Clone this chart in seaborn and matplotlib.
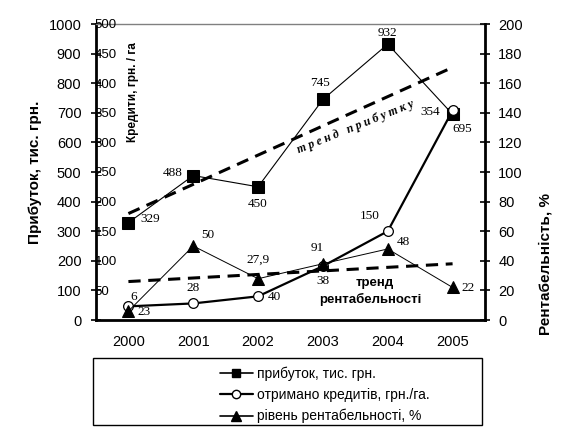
import numpy as np
import matplotlib
matplotlib.use('Agg')
import matplotlib.pyplot as plt
from matplotlib.lines import Line2D
from matplotlib.patches import Rectangle
import seaborn as sns

sns.set_style("white")
plt.rcParams['font.family'] = ['Liberation Sans', 'DejaVu Sans']
plt.rcParams['text.color'] = 'black'
plt.rcParams['xtick.color'] = 'black'
plt.rcParams['ytick.color'] = 'black'
plt.rcParams['xtick.labelcolor'] = 'black'
plt.rcParams['ytick.labelcolor'] = 'black'

years = ['2000', '2001', '2002', '2003', '2004', '2005']
profit = [329, 488, 450, 745, 932, 695]        # тис. грн. (left axis)
credits = [23, 28, 40, 91, 150, 354]           # грн./га (inner axis)
rentab = [6, 50, 27.9, 38, 48, 22]             # % (right axis)

profit_lbl = ['329', '488', '450', '745', '932', '695']
credit_lbl = ['23', '28', '40', '91', '150', '354']
rentab_lbl = ['6', '50', '27,9', '38', '48', '22']

x = np.arange(len(years))

W, H = 561, 433
fig = plt.figure(figsize=(W / 100, H / 100), dpi=100)
ax = fig.add_axes([96 / W, 1 - 320 / H, (485 - 96) / W, 296 / H])
ax3 = ax.twinx()
ax2 = ax.twinx()

# series
sns.lineplot(x=x, y=profit, ax=ax, color='black', lw=0.8, marker='s',
             markersize=8, markeredgecolor='black', markerfacecolor='black')
sns.lineplot(x=x, y=credits, ax=ax3, color='black', lw=1.6, marker='o',
             markersize=7, markeredgecolor='black', markerfacecolor='white', markeredgewidth=0.9)
sns.lineplot(x=x, y=rentab, ax=ax2, color='black', lw=0.7, marker='^',
             markersize=8.5, markeredgecolor='black', markerfacecolor='black')

# linear trends
kp = np.polyfit(x, profit, 1)
kr = np.polyfit(x, rentab, 1)
ax.plot(x, np.polyval(kp, x), color='black', lw=2.2, dashes=(4, 2.5))
ax2.plot(x, np.polyval(kr, x), color='black', lw=2.2, dashes=(4, 2.5))

# axes ranges and ticks
ax.set_xlim(-0.5, 5.5)
ax.set_ylim(0, 1000)
ax2.set_ylim(0, 200)
ax3.set_ylim(0, 500)

ax.set_xticks(np.arange(-0.5, 6, 1))
ax.set_xticklabels([])
ax.set_xticks(x, minor=True)
ax.set_xticklabels(years, minor=True)
ax.tick_params(axis='x', which='major', direction='inout', length=8, width=1.5, color='black')
ax.tick_params(axis='x', which='minor', length=0, pad=11, labelsize=10.5)

ax.set_yticks(np.arange(0, 1001, 100))
ax.tick_params(axis='y', direction='inout', length=7, width=1.2, pad=7, labelsize=10.5, color='black', left=True)
ax2.set_yticks(np.arange(0, 201, 20))
ax2.tick_params(axis='y', direction='inout', length=7, width=1.2, pad=6, labelsize=10.5, color='black', right=True)

ax3.set_yticks(np.arange(50, 501, 50))
ax3.spines['right'].set_position(('axes', 0))
ax3.tick_params(axis='y', length=0, pad=-1, labelsize=9.5)

for a in (ax, ax2, ax3):
    a.set_ylabel('')
    a.grid(False)
    for s in a.spines.values():
        s.set_visible(False)
ax.spines['left'].set_visible(True)
ax.spines['left'].set_linewidth(2)
ax.spines['left'].set_color('black')
ax.spines['bottom'].set_visible(True)
ax.spines['bottom'].set_linewidth(2)
ax.spines['bottom'].set_color('black')
ax.spines['top'].set_visible(True)
ax.spines['top'].set_linewidth(1)
ax.spines['top'].set_color('#808080')
ax2.spines['right'].set_visible(True)
ax2.spines['right'].set_linewidth(2)
ax2.spines['right'].set_color('black')

# axis titles
fig.text(35 / W, 1 - 172 / H, 'Прибуток, тис. грн.', rotation=90, ha='center', va='center',
         fontsize=11, fontweight='bold')
fig.text(545 / W, 1 - 264 / H, 'Рентабельність, %', rotation=90, ha='center', va='center',
         fontsize=11, fontweight='bold')
fig.text(133 / W, 1 - 92 / H, 'Кредити, грн. / га', rotation=90, ha='center', va='center',
         fontsize=8.5, fontweight='bold')

# data labels
serif = ['Liberation Serif', 'DejaVu Serif']
p_off = [(22, 4), (-21, 3), (0, -17), (-3, 16), (0, 11), (10, -15)]
c_off = [(16, -6), (0, 15), (16, -1), (-6, 18), (-18, 15), (-22, -2)]
r_off = [(5, 14), (15, 11), (0, 19), (0, -17), (16, 7), (15, -1)]
for a, vals, lbls, offs in ((ax, profit, profit_lbl, p_off), (ax3, credits, credit_lbl, c_off),
                            (ax2, rentab, rentab_lbl, r_off)):
    for xi, v, t, o in zip(x, vals, lbls, offs):
        a.annotate(t, (xi, v), xytext=o, textcoords='offset pixels', ha='center', va='center',
                   fontsize=9.5, family=serif)

# trend captions
fig.text(356 / W, 1 - 127 / H, 'т р е н д   п р и б у т к у',
         rotation=22, ha='center', va='center', fontsize=8.5, fontweight='bold', family=serif,
         fontstyle='italic')
fig.text(375 / W, 1 - 283 / H, 'тренд', ha='center', va='center', fontsize=9.5, fontweight='bold')
fig.text(370 / W, 1 - 299 / H, 'рентабельності', ha='center', va='center', fontsize=9.5,
         fontweight='bold')

# legend
fig.patches.append(Rectangle((93 / W, 1 - 425 / H), (482 - 93) / W, (425 - 358) / H,
                             transform=fig.transFigure, fill=False, edgecolor='black', lw=1))
handles = [
    Line2D([], [], color='black', lw=1.2, marker='s', markersize=6),
    Line2D([], [], color='black', lw=1.6, marker='o', markersize=6, markerfacecolor='white'),
    Line2D([], [], color='black', lw=1.2, marker='^', markersize=7),
]
labels = ['прибуток, тис. грн.', 'отримано кредитів, грн./га.', 'рівень рентабельності, %']
fig.legend(handles, labels, loc='upper left', bbox_to_anchor=(210 / W, 1 - 357 / H),
           frameon=False, fontsize=10, handlelength=2.4, handletextpad=0.3,
           labelspacing=0.5, borderpad=0.2)

fig.savefig('out.png', dpi=100)
